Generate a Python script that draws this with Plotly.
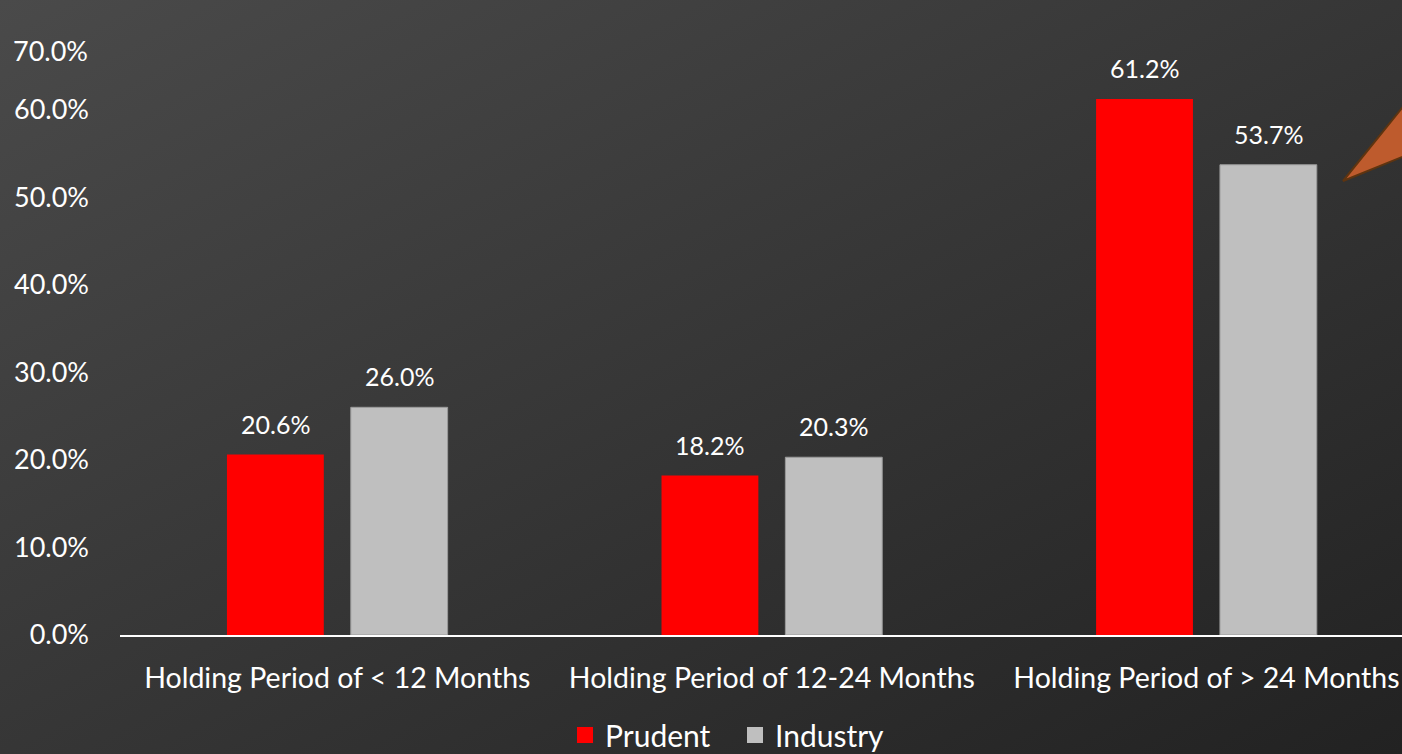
import base64
import plotly.graph_objects as go

categories = ["Holding Period of < 12 Months", "Holding Period of 12-24 Months", "Holding Period of > 24 Months"]
prudent = [20.6, 18.2, 61.2]
industry = [26.0, 20.3, 53.7]
y_ticks = [0, 10, 20, 30, 40, 50, 60]
top_tick_label = "70.0%"
series_names = ["Prudent", "Industry"]
series_colors = ["#FF0000", "#BFBFBF"]

W, H = 1402, 754
ML, MR, MT, MB = 120, 0, 22, 119
PW, PH = W - ML - MR, H - MT - MB

FONT = "Lato, 'Open Sans', sans-serif"

fig = go.Figure()
fig.add_trace(go.Bar(name=series_names[0], x=categories, y=prudent, showlegend=False,
                     marker=dict(color=series_colors[0], line=dict(width=0))))
fig.add_trace(go.Bar(name=series_names[1], x=categories, y=industry, showlegend=False,
                     marker=dict(color=series_colors[1], line=dict(color="#9a9a9a", width=1))))
# legend entries with square swatches
for n, c in zip(series_names, series_colors):
    fig.add_trace(go.Scatter(x=[None], y=[None], mode="markers", name=n,
                             marker=dict(symbol="square", size=17, color=c)))

# data labels
slot = 124
for vals, shift in ((prudent, -slot / 2), (industry, slot / 2)):
    for c, v in zip(categories, vals):
        fig.add_annotation(x=c, y=v, text=f"{v:.1f}%", showarrow=False,
                           xshift=shift, yshift=14, yanchor="bottom",
                           font=dict(family=FONT, size=25, color="white"))

# gradient background
svg = ('<svg xmlns="http://www.w3.org/2000/svg" width="1402" height="754" preserveAspectRatio="none">'
       '<defs><linearGradient id="g" x1="0" y1="0" x2="1" y2="1">'
       '<stop offset="0" stop-color="#4a4a4a"/><stop offset="1" stop-color="#222222"/>'
       '</linearGradient></defs><rect width="1402" height="754" fill="url(#g)"/></svg>')
src = "data:image/svg+xml;base64," + base64.b64encode(svg.encode()).decode()
fig.add_layout_image(source=src, xref="paper", yref="paper",
                     x=-ML / PW, y=(PH + MT) / PH, sizex=W / PW, sizey=H / PH,
                     xanchor="left", yanchor="top", sizing="stretch", layer="below")

# callout triangle (decoration)
def px(xp, yp):
    return (xp - ML) / PW, (H - MB - yp) / PH
p1, p2, p3 = px(1343, 181), px(1440, 61), px(1440, 141.5)
fig.add_shape(type="path", xref="paper", yref="paper",
              path=f"M {p1[0]} {p1[1]} L {p2[0]} {p2[1]} L {p3[0]} {p3[1]} Z",
              fillcolor="#BE5B2D", line=dict(color="#5E3410", width=2))

# top tick label (clamped into the page in the original)
fig.add_annotation(xref="paper", yref="paper", x=-30 / PW, y=(H - MB - 50) / PH,
                   text=top_tick_label, showarrow=False, xanchor="right", yanchor="middle",
                   font=dict(family=FONT, size=27, color="white"))

fig.update_layout(
    width=W, height=H,
    margin=dict(l=ML, r=MR, t=MT, b=MB, autoexpand=False),
    paper_bgcolor="#333333", plot_bgcolor="rgba(0,0,0,0)",
    barmode="group", bargap=0.43, bargroupgap=0.218,
    font=dict(family=FONT, color="white", size=20),
    showlegend=True,
    legend=dict(orientation="h", xref="container", yref="container",
                x=565 / W, xanchor="left", y=(H - 735) / H, yanchor="middle",
                font=dict(size=30, color="white"), entrywidth=125, entrywidthmode="pixels",
                bgcolor="rgba(0,0,0,0)", itemwidth=30),
    xaxis=dict(range=[-0.5, 2.45], showgrid=False, showline=True, linecolor="white",
               linewidth=2, ticks="", tickfont=dict(size=28.5, color="white"),
               ticklabelstandoff=17, zeroline=False, automargin=False),
    yaxis=dict(range=[0, 70], tickvals=y_ticks, ticktext=[f"{v:.1f}%" for v in y_ticks],
               showgrid=False, zeroline=False, showline=False, ticks="",
               tickfont=dict(size=27, color="white"), ticklabelstandoff=30, automargin=False),
)

fig.write_html("out.html", config={"displayModeBar": False},
               post_script="document.body.style.margin='0';")
